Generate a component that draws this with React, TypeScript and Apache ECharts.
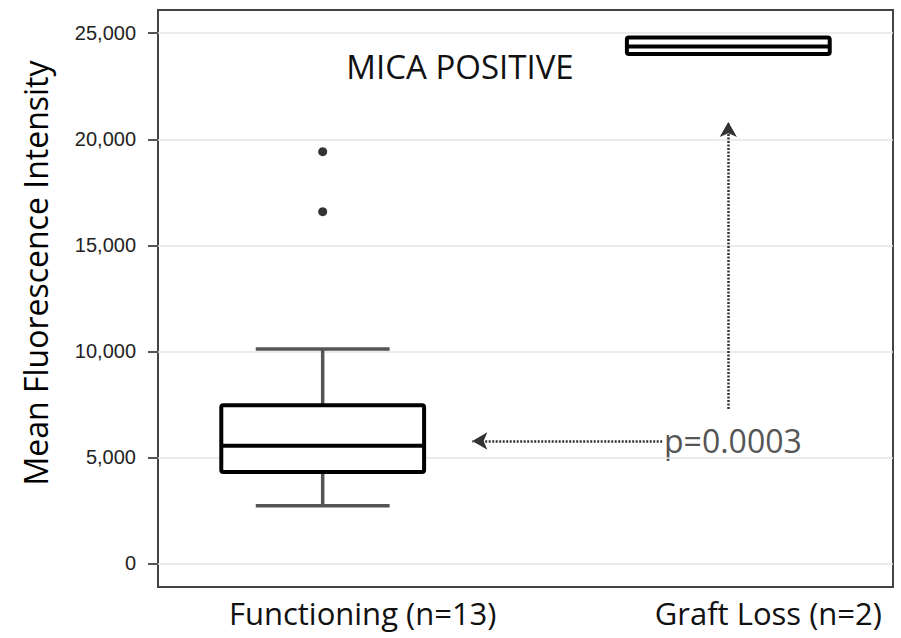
import React, { useEffect, useRef } from "react";
import * as echarts from "echarts";

// Categories and box statistics: [position, min, Q1, median, Q3, max]
const categories = ["Functioning (n=13)", "Graft Loss (n=2)"];
const boxStats: number[][] = [
  [1, 2725, 4314, 5554, 7459, 10113],
  [2, 24020, 24020, 24380, 24800, 24800],
];
const outliers: number[][] = [
  [1, 19415],
  [1, 16587],
];
const yTicks = [0, 5000, 10000, 15000, 20000, 25000];
const xTicks = [1, 2];
// annotation arrows (data coordinates)
const pArrowH = [
  [1.837, 5776],
  [1.369, 5776],
];
const pArrowV = [
  [2, 7284],
  [2, 20815],
];
const titleText = "MICA POSITIVE";
const pText = "p=0.0003";
const yTitle = "Mean Fluorescence Intensity";

const FONT = "'Open Sans', 'Noto Sans', sans-serif";

export default function App() {
  const ref = useRef<HTMLDivElement>(null);
  useEffect(() => {
    if (!ref.current) return;
    const chart = echarts.init(ref.current, null, { renderer: "svg" });
    const BOX_W = 0.5;
    const CAP_W = 0.33;
    const option: any = {
      animation: false,
      backgroundColor: "#ffffff",
      grid: {
        left: 158,
        top: 10,
        right: 8,
        bottom: 51,
        show: true,
        borderColor: "#444",
        borderWidth: 2,
        backgroundColor: "transparent",
      },
      xAxis: {
        type: "value",
        min: 0.594,
        max: 2.406,
        axisLine: { show: false },
        axisTick: { show: false },
        splitLine: { show: false },
        axisLabel: {
          customValues: xTicks,
          formatter: (v: number) => categories[Math.round(v) - 1] ?? "",
          fontFamily: FONT,
          fontSize: 31,
          color: "#111",
          margin: 10,
          padding: [0, 0, 0, 80],
        },
      },
      yAxis: {
        type: "value",
        min: -1108,
        max: 26096,
        axisLine: { show: false },
        axisTick: {
          show: true,
          customValues: yTicks,
          length: 10,
          lineStyle: { color: "#555", width: 2 },
        },
        axisLabel: {
          customValues: yTicks,
          formatter: (v: number) => v.toLocaleString("en-US"),
          fontFamily: "'Liberation Sans', Arial, sans-serif",
          fontSize: 20,
          color: "#222",
          margin: 22,
        },
        splitLine: {
          show: true,
          lineStyle: { color: "#e4e4e4", width: 1.5 },
        },
      },
      graphic: [
        {
          type: "text",
          x: 460,
          y: 66,
          style: {
            text: titleText,
            fontFamily: FONT,
            fontSize: 33,
            fill: "#111",
            align: "center",
            verticalAlign: "middle",
          },
        },
        {
          type: "text",
          x: 664,
          y: 440,
          style: {
            text: pText,
            fontFamily: FONT,
            fontSize: 32,
            fill: "#555",
            align: "left",
            verticalAlign: "middle",
          },
        },
        {
          type: "text",
          x: 35,
          y: 273,
          rotation: Math.PI / 2,
          style: {
            text: yTitle,
            fontFamily: FONT,
            fontSize: 32,
            fill: "#000",
            align: "center",
            verticalAlign: "middle",
          },
        },
      ],
      series: [
        {
          type: "custom",
          data: boxStats,
          renderItem: (params: any, api: any) => {
            const x = api.value(0);
            const mn = api.value(1);
            const q1 = api.value(2);
            const md = api.value(3);
            const q3 = api.value(4);
            const mx = api.value(5);
            const pMinL = api.coord([x - CAP_W / 2, mn]);
            const pMinR = api.coord([x + CAP_W / 2, mn]);
            const pMaxL = api.coord([x - CAP_W / 2, mx]);
            const pMaxR = api.coord([x + CAP_W / 2, mx]);
            const pMin = api.coord([x, mn]);
            const pMax = api.coord([x, mx]);
            const pQ1 = api.coord([x, q1]);
            const pQ3 = api.coord([x, q3]);
            const bl = api.coord([x - BOX_W / 2, q3]);
            const br = api.coord([x + BOX_W / 2, q1]);
            const mL = api.coord([x - BOX_W / 2, md]);
            const mR = api.coord([x + BOX_W / 2, md]);
            const whisk = { stroke: "#555", lineWidth: 3.5 };
            const children: any[] = [];
            if (mx > q3) {
              children.push({ type: "line", shape: { x1: pQ3[0], y1: pQ3[1], x2: pMax[0], y2: pMax[1] }, style: whisk });
              children.push({ type: "line", shape: { x1: pMaxL[0], y1: pMaxL[1], x2: pMaxR[0], y2: pMaxR[1] }, style: whisk });
            }
            if (mn < q1) {
              children.push({ type: "line", shape: { x1: pQ1[0], y1: pQ1[1], x2: pMin[0], y2: pMin[1] }, style: whisk });
              children.push({ type: "line", shape: { x1: pMinL[0], y1: pMinL[1], x2: pMinR[0], y2: pMinR[1] }, style: whisk });
            }
            children.push({
              type: "rect",
              shape: { x: bl[0], y: bl[1], width: br[0] - bl[0], height: br[1] - bl[1], r: 2 },
              style: { fill: "#fff", stroke: "#000", lineWidth: 4 },
            });
            children.push({
              type: "line",
              shape: { x1: mL[0], y1: mL[1], x2: mR[0], y2: mR[1] },
              style: { stroke: "#000", lineWidth: 4 },
            });
            return { type: "group", children };
          },
          markLine: {
            silent: true,
            symbol: ["none", "arrow"],
            symbolSize: [13, 15],
            label: { show: false },
            lineStyle: { color: "#333", width: 2.5, type: [2, 1.5] },
            data: [
              [{ coord: pArrowH[0] }, { coord: pArrowH[1] }],
              [{ coord: pArrowV[0] }, { coord: pArrowV[1] }],
            ],
          },
          z: 2,
        },
        {
          type: "scatter",
          data: outliers,
          symbol: "circle",
          symbolSize: 9,
          itemStyle: { color: "#000" },
          z: 3,
        },
      ],
    };
    chart.setOption(option);
    return () => chart.dispose();
  }, []);
  return (
    <div
      ref={ref}
      style={{ position: "absolute", left: 0, top: 0, width: 901, height: 638 }}
    />
  );
}
